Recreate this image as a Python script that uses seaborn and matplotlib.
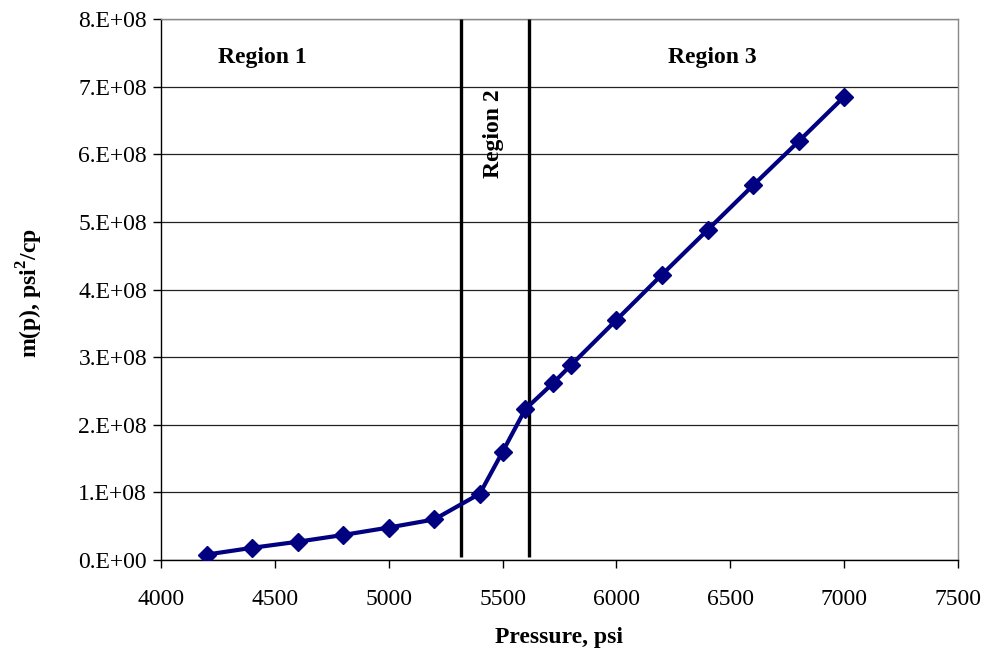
import matplotlib
matplotlib.use("Agg")
import matplotlib.pyplot as plt
from matplotlib.ticker import FuncFormatter, MultipleLocator
import seaborn as sns
import pandas as pd

# Pseudo-pressure m(p) versus pressure
pressure = [4200, 4400, 4600, 4800, 5000, 5200, 5400, 5500, 5600,
            5720, 5800, 6000, 6200, 6400, 6600, 6800, 7000]
m_p = [0.08e8, 0.18e8, 0.27e8, 0.37e8, 0.48e8, 0.60e8, 0.98e8, 1.60e8, 2.23e8,
       2.61e8, 2.88e8, 3.55e8, 4.22e8, 4.88e8, 5.54e8, 6.19e8, 6.85e8]

# Region boundaries (psi)
boundaries = [5316, 5618]
region_labels = ["Region 1", "Region 2", "Region 3"]

sns.set_theme(style="white")
plt.rcParams["font.family"] = ["Liberation Serif", "DejaVu Serif"]
plt.rcParams["mathtext.fontset"] = "custom"
plt.rcParams["mathtext.rm"] = "Liberation Serif"
plt.rcParams["mathtext.bf"] = "Liberation Serif:bold"
plt.rcParams["text.color"] = "black"
plt.rcParams["axes.labelcolor"] = "black"
plt.rcParams["xtick.color"] = "black"
plt.rcParams["ytick.color"] = "black"

df = pd.DataFrame({"Pressure": pressure, "mp": m_p})

fig = plt.figure(figsize=(9.88, 6.54), dpi=100)
ax = fig.add_axes([161 / 988, 1 - 560 / 654, (958 - 161) / 988, (560 - 19) / 654])

ax.set_xlim(4000, 7500)
ax.set_ylim(0, 8e8)
ax.xaxis.set_major_locator(MultipleLocator(500))
ax.yaxis.set_major_locator(MultipleLocator(1e8))
ax.yaxis.set_major_formatter(
    FuncFormatter(lambda v, _: "0.E+00" if abs(v) < 1 else f"{v / 1e8:.0f}.E+08"))

ax.grid(axis="y", color="#222222", linewidth=0.9)
ax.grid(axis="x", visible=False)
ax.set_axisbelow(True)

for s in ["left", "bottom"]:
    ax.spines[s].set_color("black")
    ax.spines[s].set_linewidth(1.0)
for s in ["top", "right"]:
    ax.spines[s].set_color("#888888")
    ax.spines[s].set_linewidth(1.0)

ax.tick_params(axis="both", which="major", direction="out", length=6, width=1,
               color="black", labelcolor="black", labelsize=17,
               bottom=True, left=True)
ax.tick_params(axis="x", pad=15)
ax.tick_params(axis="y", pad=4)

for b in boundaries:
    ax.vlines(b, 0.04e8, 8e8, color="black", linewidth=2.4, zorder=3)

sns.lineplot(data=df, x="Pressure", y="mp", ax=ax, color="#000080",
             linewidth=3.0, marker="D", markersize=9, markeredgecolor="#000080",
             markeredgewidth=1, zorder=4)

ax.text(4443, 7.43e8, region_labels[0], fontsize=17, fontweight="bold",
        ha="center", va="center")
ax.text(5458, 6.31e8, region_labels[1], fontsize=17, fontweight="bold",
        ha="center", va="center", rotation=90)
ax.text(6420, 7.43e8, region_labels[2], fontsize=17, fontweight="bold",
        ha="center", va="center")

ax.set_xlabel("Pressure, psi", fontsize=17, fontweight="bold")
ax.set_ylabel(r"m(p), psi$^{\mathbf{2}}$/cp", fontsize=17, fontweight="bold")
ax.xaxis.set_label_coords((559 - 161) / (958 - 161), -(638 - 560) / (560 - 19))
ax.yaxis.set_label_coords(-(161 - 30) / (958 - 161), (560 - 293) / (560 - 19))
ax.xaxis.label.set_va("center")
ax.yaxis.label.set_va("center")

fig.savefig("out.png", dpi=100)
